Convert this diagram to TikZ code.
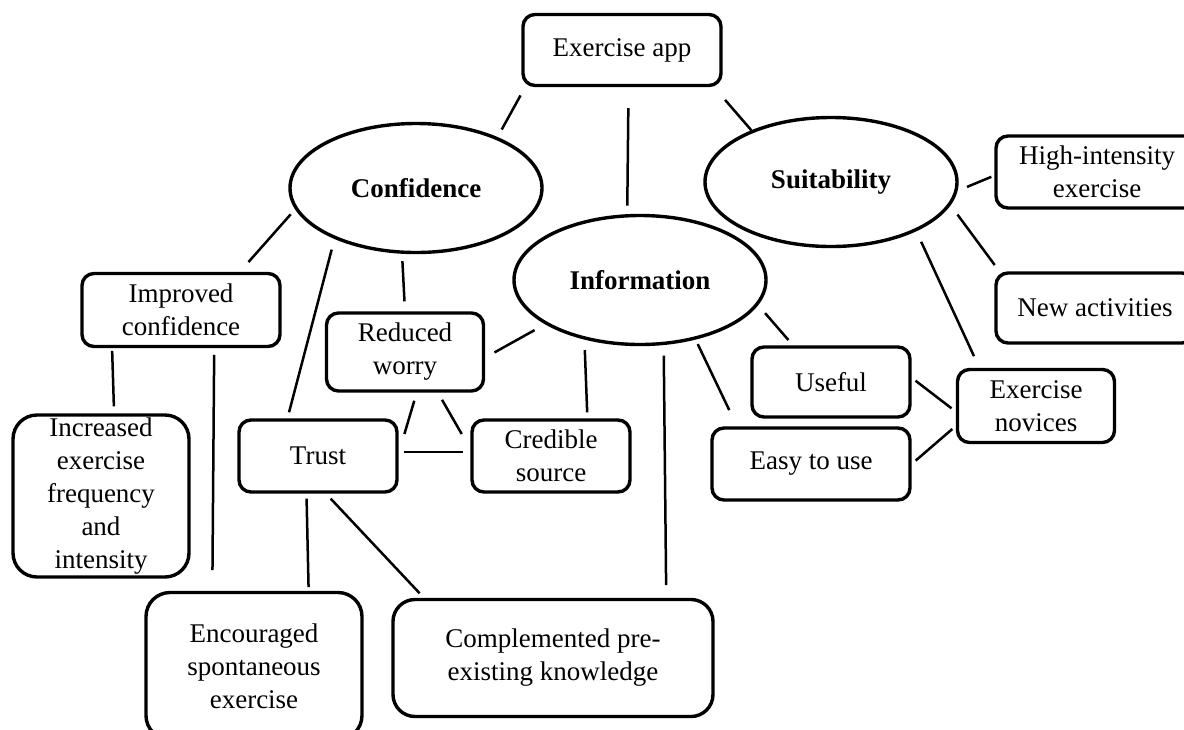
\documentclass[tikz,border=0pt]{standalone}
\usepackage{fontspec}
\setmainfont{Liberation Serif}
\usetikzlibrary{shapes.geometric}
\tikzset{%
  % Specifications for style of nodes:
        base/.style = {rectangle, rounded corners=6pt, draw=black, line width=1.7pt,
                       inner sep=0pt, text centered, font=\fontsize{13.5}{16.5}\selectfont},
       theme/.style = {base, ellipse, minimum width=126pt, minimum height=64.5pt,
                       font=\fontsize{13.5}{16.5}\selectfont\bfseries},
      bigbox/.style = {base, rounded corners=12pt},
  % Specifications for style of links:
        link/.style = {line width=1.25pt},
    gap/.style 2 args = {shorten <=#1, shorten >=#2},
}

\begin{document}
\begin{tikzpicture}[x=0.5pt, y=-0.5pt, align=center]
  \useasboundingbox (0,0) rectangle (1184,729);
  \clip (0,0) rectangle (1184,729);
  \node (app)    [base, minimum width=99pt, minimum height=35.5pt]   at (622,50)  {Exercise app};
  \node (conf)   [theme]                                               at (416,188) {Confidence};
  \node (info)   [theme]                                               at (640,280) {Information};
  \node (suit)   [theme]                                               at (831,182) {Suitability};
  \node (high)   [base, minimum width=101pt, minimum height=36pt]    at (1097,172) {High-intensity\\exercise};
  \node (newact) [base, minimum width=99pt, minimum height=35pt]     at (1095,308) {New activities};
  \node (nov)    [base, minimum width=78.5pt, minimum height=36.5pt] at (1036,406) {Exercise\\novices};
  \node (useful) [base, minimum width=79pt, minimum height=35pt]     at (831,382) {Useful};
  \node (easy)   [base, minimum width=99pt, minimum height=36pt]     at (811,464) {Easy to use};
  \node (impr)   [base, minimum width=99pt, minimum height=36.5pt]   at (181,310) {Improved\\confidence};
  \node (incr)   [bigbox, minimum width=88pt, minimum height=81pt]   at (101,496) {Increased\\exercise\\frequency\\and\\intensity};
  \node (worry)  [base, minimum width=78.5pt, minimum height=39pt]   at (405,352) {Reduced\\worry};
  \node (trust)  [base, minimum width=79pt, minimum height=36pt]     at (318,456) {Trust};
  \node (cred)   [base, minimum width=79pt, minimum height=36pt]     at (551,456) {Credible\\source};
  \node (enc)    [bigbox, minimum width=108pt, minimum height=73.5pt] at (254,666) {Encouraged\\spontaneous\\exercise};
  \node (comp)   [bigbox, rounded corners=11pt, minimum width=160pt, minimum height=58.5pt] at (553,658) {Complemented pre-\\existing knowledge};

  \draw[link, gap={4.7pt}{4.3pt}]  (app.201)   -- (conf.32);
  \draw[link, gap={10.5pt}{4.3pt}] (app.-80)   -- (info.101);
  \draw[link, gap={8.4pt}{0pt}]    (app.-22)   -- (suit.147);
  \draw[link, gap={3.3pt}{6.5pt}]  (conf.190)  -- (impr.33);
  \draw[link, gap={5.5pt}{3.1pt}]  (conf.212)  -- (trust.129);
  \draw[link, gap={3.7pt}{5pt}]    (conf.-102) -- (worry.north);
  \draw[link, gap={6pt}{5.3pt}]    (info.205)  -- (worry.-4);
  \draw[link, gap={5.3pt}{3pt}]    (info.227)  -- (cred.46);
  \draw[link, gap={5.3pt}{6.3pt}]  (info.-70)  -- (comp.28);
  \draw[link, gap={2.5pt}{9pt}]    (info.-47)  -- (easy.153);
  \draw[link, gap={5.3pt}{3.5pt}]  (info.-12)  -- (useful.136);
  \draw[link, gap={5.1pt}{1.6pt}]  (suit.-4)   -- (high.182);
  \draw[link, gap={5.8pt}{3.9pt}]  (suit.-11)  -- (newact.159);
  \draw[link, gap={5.8pt}{6.4pt}]  (suit.-30)  -- (nov.146);
  \draw[link, gap={2.4pt}{2.7pt}]  (useful.3)  -- (nov.184);
  \draw[link, gap={2.6pt}{2.3pt}]  (easy.east) -- (nov.194);
  \draw[link, gap={1.3pt}{3.5pt}]  (impr.209)  -- (incr.81);
  \draw[link, gap={3.3pt}{10.3pt}] (impr.-49)  -- (enc.119);
  \draw[link, gap={4.2pt}{10pt}]   (worry.-74) -- (trust.2);
  \draw[link, gap={4.1pt}{8.6pt}]  (worry.-51) -- (cred.175);
  \draw[link, gap={2.5pt}{3.5pt}]  (trust.3)   -- (cred.177);
  \draw[link, gap={2.5pt}{1.8pt}]  (trust.253) -- (enc.54);
  \draw[link, gap={3.4pt}{3.1pt}]  (trust.-78) -- (comp.155);
\end{tikzpicture}
\end{document}
